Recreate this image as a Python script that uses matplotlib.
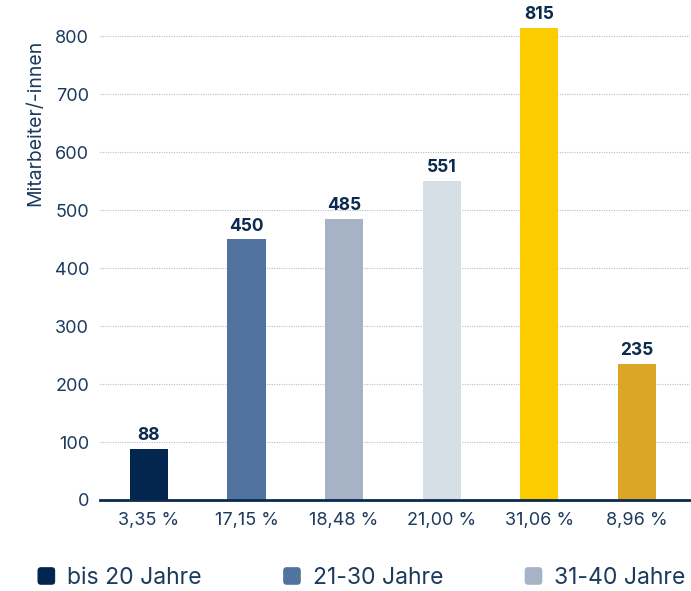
import numpy as np
import matplotlib.pyplot as plt
from matplotlib.patches import FancyBboxPatch, Patch
from matplotlib.legend_handler import HandlerBase

plt.rcParams['font.family'] = ['Inter', 'DejaVu Sans']

# data
pct_labels = ['3,35 %', '17,15 %', '18,48 %', '21,00 %', '31,06 %', '8,96 %']
counts = [88, 450, 485, 551, 815, 235]
colors = ['#03264f', '#50749f', '#a6b3c7', '#d6dee6', '#fdcc00', '#dba626']
legend_labels = ['bis 20 Jahre', '21-30 Jahre', '31-40 Jahre']

txt = '#1c3a5e'


class RoundSquare(HandlerBase):
    def create_artists(self, legend, orig, xd, yd, w, h, fontsize, trans):
        s = h * 1.1
        x0 = xd + (w - s) / 2
        y0 = yd + (h - s) / 2
        p = FancyBboxPatch((x0, y0), s, s, boxstyle='round,pad=0,rounding_size=%f' % (s * 0.2),
                           facecolor=orig.get_facecolor(), edgecolor='none', transform=trans)
        return [p]


fig = plt.figure(figsize=(6.91, 5.91), dpi=100)
ax = fig.add_axes([0.145, 0.154, 0.854, 0.846])

x = np.arange(len(counts))
ax.bar(x, counts, width=0.39, color=colors, zorder=3)
for xi, v in zip(x, counts):
    ax.text(xi, v + 8, str(v), ha='center', va='bottom', fontsize=12.5,
            fontweight='bold', color='#0b2a4f')

ax.set_xlim(-0.5, 5.55)
ax.set_ylim(0, 863)
ax.set_yticks(range(0, 801, 100))
ax.set_xticks(x)
ax.set_xticklabels(pct_labels)
ax.tick_params(length=0, labelsize=13, labelcolor=txt)
ax.tick_params(axis='y', pad=8)
ax.tick_params(axis='x', pad=9)
ax.yaxis.grid(True, linestyle=(0, (1, 1.2)), color='#b3bccd', linewidth=0.8, zorder=0)
ax.set_axisbelow(True)
for s in ['top', 'right', 'left']:
    ax.spines[s].set_visible(False)
ax.spines['bottom'].set_color('#0b2a4f')
ax.spines['bottom'].set_linewidth(2)
ax.spines['bottom'].set_zorder(4)
ax.set_ylabel('Mitarbeiter/-innen', fontsize=14, color=txt, loc='top')
ax.yaxis.set_label_coords(-0.094, 0.92)

handles = [Patch(facecolor=c) for c in colors[:3]]
fig.legend(handles, legend_labels, loc='center', bbox_to_anchor=(0.522, 0.022),
           ncol=3, frameon=False, fontsize=16.5, labelcolor=txt,
           handler_map={Patch: RoundSquare()},
           handlelength=0.9, handletextpad=0.45, columnspacing=3.5)

fig.savefig('out.png', dpi=100)
